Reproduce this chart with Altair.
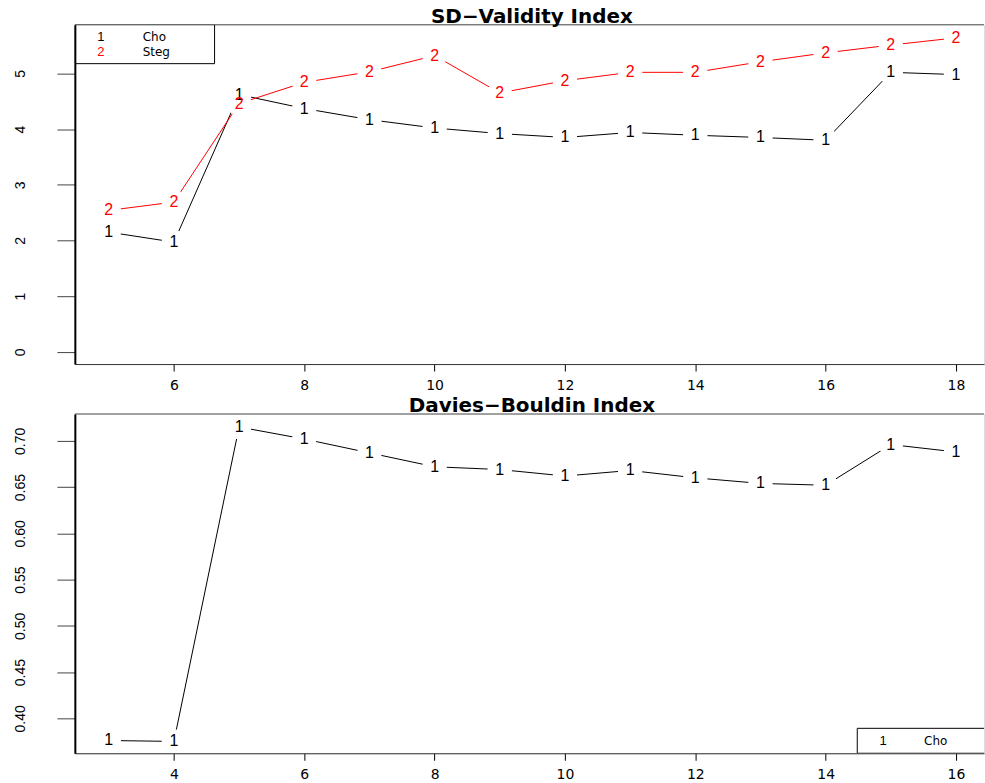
import altair as alt
import pandas as pd

# ---- SD validity index, clusters 5..18 ----
sd_k = [5, 6, 7, 8, 9, 10, 11, 12, 13, 14, 15, 16, 17, 18]
sd_cho = [2.15, 1.97, 4.62, 4.37, 4.17, 4.02, 3.92, 3.85, 3.94, 3.89, 3.85, 3.80, 5.02, 4.98]
sd_steg = [2.54, 2.69, 4.46, 4.84, 5.03, 5.32, 4.65, 4.87, 5.02, 5.02, 5.21, 5.37, 5.51, 5.64]

# ---- Davies-Bouldin index, clusters 3..16 ----
db_k = [3, 4, 5, 6, 7, 8, 9, 10, 11, 12, 13, 14, 15, 16]
db_cho = [0.376, 0.375, 0.715, 0.702, 0.687, 0.672, 0.669, 0.662, 0.668, 0.660, 0.654, 0.652, 0.696, 0.688]

series_names = ["Cho", "Steg"]
series_symbols = ["1", "2"]
series_colors = ["#000000", "#FF0000"]

sd_xticks = [6, 8, 10, 12, 14, 16, 18]
sd_yticks = [0, 1, 2, 3, 4, 5]
db_xticks = [4, 6, 8, 10, 12, 14, 16]
db_yticks = [0.40, 0.45, 0.50, 0.55, 0.60, 0.65, 0.70]

PLOT_W = 911
PLOT_H = 340
AXIS_FONT = "DejaVu Sans"
SYMBOL_FONT = "Liberation Sans"


def long_frame(k, series):
    rows = []
    for name, sym, values in series:
        for kk, v in zip(k, values):
            rows.append({"k": kk, "value": v, "series": name, "symbol": sym})
    return pd.DataFrame(rows)


def one_row():
    return pd.DataFrame({"i": [0]})


def panel(df, x_dom, y_dom, xticks, yticks, yfmt, title, legend_items, legend_box):
    x_enc = alt.X(
        "k:Q",
        scale=alt.Scale(domain=x_dom, nice=False, zero=False),
        axis=alt.Axis(
            values=xticks, title=None, grid=False, format="d",
            labelFont=AXIS_FONT, labelFontSize=14, labelColor="#000",
            labelPadding=7, tickSize=7, tickColor="#000", tickWidth=1,
            domainColor="#333", domainWidth=1, zindex=1, labelFlush=False,
        ),
    )
    y_enc = alt.Y(
        "value:Q",
        scale=alt.Scale(domain=y_dom, nice=False, zero=False),
        axis=alt.Axis(
            values=yticks, title=None, grid=False, format=yfmt,
            labelFont=SYMBOL_FONT, labelFontSize=14, labelColor="#000",
            labelAngle=270, labelAlign="center", labelBaseline="bottom",
            labelPadding=29, tickSize=18, tickColor="#444", tickWidth=1,
            domainColor="#000", domainWidth=2, zindex=1,
            minExtent=74, maxExtent=74, labelFlush=False,
        ),
    )
    color_enc = alt.Color(
        "series:N",
        scale=alt.Scale(domain=series_names, range=series_colors),
        legend=None,
    )

    lines = alt.Chart(df).mark_line(strokeWidth=1).encode(
        x=x_enc, y=y_enc, color=color_enc, detail="series:N"
    )
    # white disks open a gap in the connecting lines around each symbol
    gaps = alt.Chart(df).mark_circle(size=600, color="white", opacity=1).encode(
        x=x_enc, y=y_enc
    )
    symbols = alt.Chart(df).mark_text(
        font=SYMBOL_FONT, fontSize=16, align="center", baseline="middle"
    ).encode(x=x_enc, y=y_enc, color=color_enc, text="symbol:N")

    top_edge = alt.Chart(one_row()).mark_rule(color="#555", strokeWidth=1).encode(
        x=alt.value(0), x2=alt.value(PLOT_W), y=alt.value(0)
    )
    heading = alt.Chart(one_row()).mark_text(
        font=AXIS_FONT, fontSize=20, fontWeight="bold", color="#000",
        align="center", baseline="alphabetic",
    ).encode(x=alt.value(458), y=alt.value(-2), text=alt.value(title))

    bx0, by0, bx1, by1, sym_x, name_x, row_y = legend_box
    legend_layers = [
        alt.Chart(one_row()).mark_rect(
            fill="white", stroke="#000", strokeWidth=1, clip=True
        ).encode(x=alt.value(bx0), x2=alt.value(bx1), y=alt.value(by0), y2=alt.value(by1))
    ]
    for (sym, name, col), yy in zip(legend_items, row_y):
        legend_layers.append(
            alt.Chart(one_row()).mark_text(
                font=SYMBOL_FONT, fontSize=13, align="center", baseline="middle", color=col
            ).encode(x=alt.value(sym_x), y=alt.value(yy), text=alt.value(sym))
        )
        legend_layers.append(
            alt.Chart(one_row()).mark_text(
                font=AXIS_FONT, fontSize=12, align="left", baseline="middle", color="#000"
            ).encode(x=alt.value(name_x), y=alt.value(yy), text=alt.value(name))
        )

    return alt.layer(lines, gaps, symbols, top_edge, heading, *legend_layers).properties(
        width=PLOT_W,
        height=PLOT_H,
    )


sd_df = long_frame(sd_k, [("Cho", "1", sd_cho), ("Steg", "2", sd_steg)])
db_df = long_frame(db_k, [("Cho", "1", db_cho)])

sd_legend = [(series_symbols[i], series_names[i], series_colors[i]) for i in range(2)]
db_legend = [(series_symbols[0], series_names[0], series_colors[0])]

top = panel(
    sd_df, [4.48, 18.43], [-0.22, 5.875], sd_xticks, sd_yticks, "d",
    "SD\u2212Validity Index", sd_legend, (0, 0, 140, 39, 26, 68, [12, 27]),
)
bottom = panel(
    db_df, [2.48, 16.43], [0.3622, 0.7291], db_xticks, db_yticks, ".2f",
    "Davies\u2212Bouldin Index", db_legend, (784, 315, 930, 340, 810, 851, [328]),
)

chart = (
    alt.vconcat(top, bottom, spacing=50, bounds="flush")
    .properties(padding={"left": 0, "top": 5, "right": 0, "bottom": 0})
    .configure_view(stroke=None)
    .configure(background="white")
)

chart.save("out.html", embed_options={"renderer": "svg", "actions": False})
